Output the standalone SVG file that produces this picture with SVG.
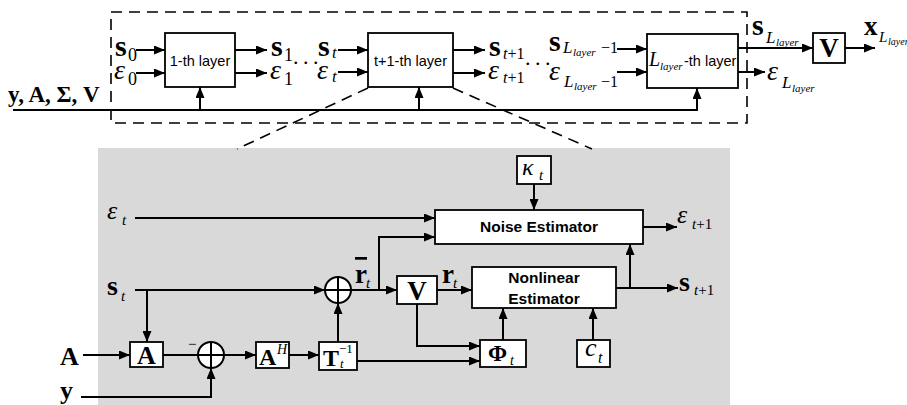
<svg xmlns="http://www.w3.org/2000/svg" width="907" height="405" viewBox="0 0 907 405">
<defs>
<marker id="ah" markerWidth="11" markerHeight="9" refX="11" refY="4.5" orient="auto" markerUnits="userSpaceOnUse"><path d="M0,0 L11,4.5 L0,9 z" fill="#000"/></marker>
<style>
.box{fill:#fff;stroke:#000;stroke-width:1.8}
.ln{fill:none;stroke:#000;stroke-width:2}
.ar{fill:none;stroke:#000;stroke-width:2;marker-end:url(#ah)}
.dash{fill:none;stroke:#000;stroke-width:1.6;stroke-dasharray:11 7}
.m{font-family:"Liberation Serif","Times New Roman",serif;fill:#000}
.b{font-weight:bold}
.i{font-style:italic}
.sf{font-family:"Liberation Sans",Arial,sans-serif;font-size:14.5px;fill:#000}
.sb{font-family:"Liberation Sans",Arial,sans-serif;font-size:15.5px;font-weight:bold;fill:#000}
.s{font-size:30px;font-weight:bold}
.e{font-size:28px;font-style:italic}
</style>
</defs>
<rect width="907" height="405" fill="#fff"/>
<rect x="98" y="148" width="632" height="257" fill="#d9d9d9"/>

<g id="frame">
<path class="dash" d="M111,12 H747 V123 H111 Z"/>
<path class="dash" d="M368,88 L237,149"/>
<path class="dash" d="M453,88 L592,149"/>
</g>

<g id="connectors">
<path class="ar" d="M136,50 H165"/>
<path class="ar" d="M136,73 H165"/>
<path class="ar" d="M235,50 H267"/>
<path class="ar" d="M235,73 H267"/>
<path class="ar" d="M338,50 H368"/>
<path class="ar" d="M338,72 H368"/>
<path class="ar" d="M453,50 H485"/>
<path class="ar" d="M453,73 H485"/>
<path class="ar" d="M617,49 H647"/>
<path class="ar" d="M617,72 H647"/>
<path class="ar" d="M738,48 H813"/>
<path class="ar" d="M738,72 H765"/>
<path class="ar" d="M845,48 H875"/>
<path class="ar" d="M13,110 H697 V88"/>
<path class="ar" d="M200,110 V87"/>
<path class="ar" d="M419,110 V87"/>

<path class="ar" d="M135,218 H435"/>
<path class="ar" d="M135,290 H325"/>
<path class="ar" d="M147,290 V342"/>
<path class="ar" d="M83,355 H130"/>
<path class="ln" d="M163,355 H198"/>
<path class="ar" d="M81,397 H211 V368"/>
<path class="ar" d="M224,355 H256"/>
<path class="ar" d="M289,355 H319"/>
<path class="ar" d="M338,342 V303"/>
<path class="ar" d="M351,290 H397"/>
<path class="ar" d="M379,290 V237 H435"/>
<path class="ar" d="M437,290 H472"/>
<path class="ar" d="M417,304 V346 H480"/>
<path class="ar" d="M357,361 H480"/>
<path class="ar" d="M503,340 V308"/>
<path class="ar" d="M593,340 V308"/>
<path class="ar" d="M534,184 V210"/>
<path class="ar" d="M643,227 H677"/>
<path class="ar" d="M616,288 H678"/>
<path class="ar" d="M630,288 V244"/>
</g>

<g id="layer1">
<rect class="box" x="165" y="33" width="70" height="54"/>
<text class="sf" x="200" y="66" text-anchor="middle">1-th layer</text>
</g>
<g id="layer-t1">
<rect class="box" x="368" y="33" width="85" height="54"/>
<text class="sf" x="410.5" y="66" text-anchor="middle">t+1-th layer</text>
</g>
<g id="layer-L">
<rect class="box" x="647" y="34" width="91" height="54"/>
<text class="m i" x="649" y="66" font-size="20">L</text>
<text class="m i" x="660" y="70" font-size="11">layer</text>
<text class="sf" x="684" y="66">-th layer</text>
</g>
<g id="V-out">
<rect class="box" x="813" y="33" width="32" height="30"/>
<text class="m b" x="829" y="57" font-size="27" text-anchor="middle">V</text>
</g>

<g id="top-labels">
<text class="m b" x="8" y="102" font-size="23">y, A, Σ, V</text>
<text class="m s" x="115" y="56">s</text><text class="m" x="128" y="61" font-size="18">0</text>
<text class="m e" x="114" y="79">ε</text><text class="m" x="128" y="85" font-size="18">0</text>
<text class="m s" x="271" y="56">s</text><text class="m" x="284" y="61" font-size="18">1</text>
<text class="m e" x="270" y="79">ε</text><text class="m" x="284" y="85" font-size="18">1</text>
<text class="m" x="293 303 313" y="64" font-size="22">...</text>
<text class="m s" x="318" y="56">s</text><text class="m i" x="332" y="58" font-size="17">t</text>
<text class="m e" x="317" y="79">ε</text><text class="m i" x="332" y="82" font-size="17">t</text>
<text class="m s" x="489" y="56">s</text><text class="m" x="503" y="59" font-size="16"><tspan class="i">t</tspan>+1</text>
<text class="m e" x="488" y="79">ε</text><text class="m" x="503" y="83" font-size="16"><tspan class="i">t</tspan>+1</text>
<text class="m" x="525 535 545" y="65" font-size="22">...</text>
<text class="m s" x="549" y="51">s</text><text class="m i" x="563" y="53" font-size="17">L</text><text class="m i" x="573" y="56" font-size="11">layer</text><text class="m" x="601" y="53" font-size="16">−1</text>
<text class="m e" x="549" y="80">ε</text><text class="m i" x="564" y="87" font-size="17">L</text><text class="m i" x="574" y="90" font-size="11">layer</text><text class="m" x="601" y="87" font-size="16">−1</text>
<text class="m s" x="752" y="35">s</text><text class="m i" x="766" y="43" font-size="17">L</text><text class="m i" x="776" y="46" font-size="11">layer</text>
<text class="m e" x="767" y="80">ε</text><text class="m i" x="782" y="88" font-size="17">L</text><text class="m i" x="792" y="92" font-size="11">layer</text>
<text class="m b" x="864" y="35" font-size="27">x</text><text class="m i" x="879" y="42" font-size="15">L</text><text class="m i" x="888" y="45" font-size="10">layer</text>
</g>

<g id="A-box">
<rect class="box" x="130" y="342" width="33" height="25"/>
<text class="m b" x="146.5" y="364" font-size="26" text-anchor="middle">A</text>
</g>
<g id="sum2">
<circle cx="211" cy="355" r="13" fill="#fff" stroke="#000" stroke-width="2"/>
<path class="ln" d="M198,355 H224 M211,342 V368"/>
</g>
<g id="AH-box">
<rect class="box" x="256" y="342" width="33" height="26"/>
<text class="m b" x="259" y="365" font-size="24">A</text><text class="m i" x="277" y="354" font-size="14">H</text>
</g>
<g id="T-box">
<rect class="box" x="319" y="342" width="38" height="28"/>
<text class="m b" x="323" y="366" font-size="24">T</text><text class="m" x="339" y="353" font-size="13">−1</text><text class="m i" x="340" y="368" font-size="13">t</text>
</g>
<g id="sum1">
<circle cx="338" cy="290" r="13" fill="#fff" stroke="#000" stroke-width="2"/>
<path class="ln" d="M325,290 H351 M338,277 V303"/>
</g>
<g id="V-box">
<rect class="box" x="397" y="276" width="40" height="28"/>
<text class="m b" x="417" y="300" font-size="27" text-anchor="middle">V</text>
</g>
<g id="K-box">
<rect class="box" x="517" y="156" width="34" height="28"/>
<text class="m i" x="522" y="175" font-size="24">κ</text><text class="m i" x="539" y="180" font-size="15">t</text>
</g>
<g id="noise-estimator">
<rect class="box" x="435" y="210" width="208" height="34"/>
<text class="sb" x="539" y="232" text-anchor="middle">Noise Estimator</text>
</g>
<g id="nonlinear-estimator">
<rect class="box" x="472" y="267" width="144" height="41"/>
<text class="sb" x="544" y="283" text-anchor="middle">Nonlinear</text>
<text class="sb" x="544" y="304" text-anchor="middle">Estimator</text>
</g>
<g id="Phi-box">
<rect class="box" x="480" y="340" width="46" height="27"/>
<text class="m b" x="488" y="361" font-size="23">Φ</text><text class="m i" x="510" y="365" font-size="14">t</text>
</g>
<g id="c-box">
<rect class="box" x="577" y="340" width="33" height="27"/>
<text class="m i" x="585" y="356" font-size="26">c</text><text class="m i" x="598" y="363" font-size="16">t</text>
</g>

<g id="bottom-labels">
<text class="m i" x="107" y="219" font-size="26">ε</text><text class="m i" x="122" y="225" font-size="15">t</text>
<text class="m b" x="107" y="295" font-size="28">s</text><text class="m i" x="121" y="301" font-size="15">t</text>
<text class="m b" x="60" y="365" font-size="26">A</text>
<text class="m b" x="60" y="399" font-size="26">y</text>
<text class="m" x="188" y="349" font-size="15">−</text>
<text class="m b" x="355" y="283" font-size="27" text-decoration="overline">r</text><text class="m i" x="366" y="288" font-size="15">t</text>
<text class="m b" x="442" y="283" font-size="27">r</text><text class="m i" x="453" y="288" font-size="15">t</text>
<text class="m i" x="677" y="223" font-size="26">ε</text><text class="m" x="692" y="229" font-size="15"><tspan class="i">t</tspan>+1</text>
<text class="m b" x="679" y="291" font-size="28">s</text><text class="m" x="694" y="295" font-size="15"><tspan class="i">t</tspan>+1</text>
</g>
</svg>
